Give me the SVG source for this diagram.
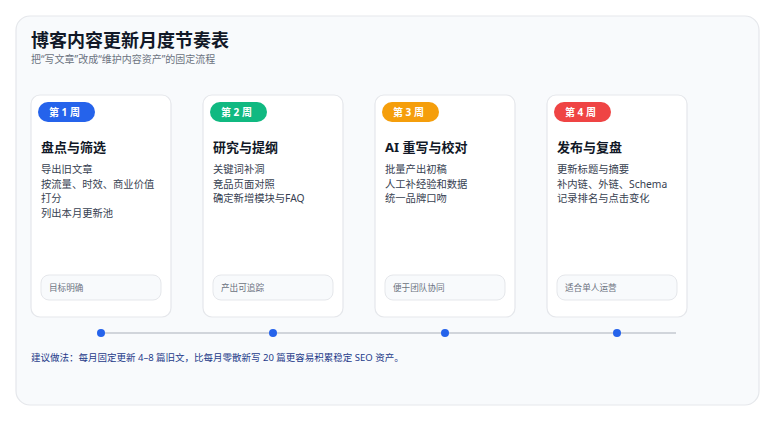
<svg xmlns="http://www.w3.org/2000/svg" width="774" height="421" viewBox="0 0 774 421">
<style>
text{font-family:"Noto Sans","Noto Sans CJK SC",sans-serif}
.title{font-size:18px;font-weight:700;fill:#111827}
.sub{font-size:10px;fill:#6b7280}
.card{fill:#ffffff;stroke:#e5e7eb;stroke-width:1.2}
.badge-t{font-size:10px;font-weight:700;fill:#ffffff}
.head{font-size:13px;font-weight:700;fill:#111827}
.body{font-size:10.3px;fill:#374151}
.foot{fill:#f8fafc;stroke:#e5e7eb;stroke-width:1}
.foot-t{font-size:8.6px;fill:#6b7280}
.dot{fill:#2563eb}
.note{font-size:9.5px;fill:#1e3a8a}
</style>
<rect width="774" height="421" fill="#ffffff"/>
<rect x="16" y="16" width="743" height="389" rx="14" fill="#f8fafc" stroke="#e5e7eb" stroke-width="1.2"/>
<text class="title" x="31" y="47">博客内容更新月度节奏表</text>
<text class="sub" x="31" y="63">把“写文章”改成“维护内容资产”的固定流程</text>

<g id="week1">
<rect class="card" x="31" y="95" width="140" height="222" rx="9"/>
<rect x="38" y="102" width="57" height="20" rx="10" fill="#2563eb"/>
<text class="badge-t" x="49" y="116">第 1 周</text>
<text class="head" x="41" y="152">盘点与筛选</text>
<text class="body" x="41" y="173">导出旧文章</text>
<text class="body" x="41" y="188">按流量、时效、商业价值</text>
<text class="body" x="41" y="202">打分</text>
<text class="body" x="41" y="217">列出本月更新池</text>
<rect class="foot" x="41" y="275" width="120" height="25" rx="8"/>
<text class="foot-t" x="49" y="291">目标明确</text>
</g>

<g id="week2">
<rect class="card" x="203" y="95" width="140" height="222" rx="9"/>
<rect x="210" y="102" width="57" height="20" rx="10" fill="#10b981"/>
<text class="badge-t" x="221" y="116">第 2 周</text>
<text class="head" x="213" y="152">研究与提纲</text>
<text class="body" x="213" y="173">关键词补洞</text>
<text class="body" x="213" y="188">竞品页面对照</text>
<text class="body" x="213" y="202">确定新增模块与FAQ</text>
<rect class="foot" x="213" y="275" width="120" height="25" rx="8"/>
<text class="foot-t" x="221" y="291">产出可追踪</text>
</g>

<g id="week3">
<rect class="card" x="375" y="95" width="140" height="222" rx="9"/>
<rect x="382" y="102" width="57" height="20" rx="10" fill="#f59e0b"/>
<text class="badge-t" x="393" y="116">第 3 周</text>
<text class="head" x="385" y="152">AI 重写与校对</text>
<text class="body" x="385" y="173">批量产出初稿</text>
<text class="body" x="385" y="188">人工补经验和数据</text>
<text class="body" x="385" y="202">统一品牌口吻</text>
<rect class="foot" x="385" y="275" width="120" height="25" rx="8"/>
<text class="foot-t" x="393" y="291">便于团队协同</text>
</g>

<g id="week4">
<rect class="card" x="547" y="95" width="140" height="222" rx="9"/>
<rect x="554" y="102" width="57" height="20" rx="10" fill="#ef4444"/>
<text class="badge-t" x="565" y="116">第 4 周</text>
<text class="head" x="557" y="152">发布与复盘</text>
<text class="body" x="557" y="173">更新标题与摘要</text>
<text class="body" x="557" y="188">补内链、外链、Schema</text>
<text class="body" x="557" y="202">记录排名与点击变化</text>
<rect class="foot" x="557" y="275" width="120" height="25" rx="8"/>
<text class="foot-t" x="565" y="291">适合单人运营</text>
</g>

<g id="timeline">
<line x1="101" y1="333" x2="676" y2="333" stroke="#d1d5db" stroke-width="2"/>
<circle class="dot" cx="101" cy="333" r="4"/>
<circle class="dot" cx="273" cy="333" r="4"/>
<circle class="dot" cx="445" cy="333" r="4"/>
<circle class="dot" cx="617" cy="333" r="4"/>
</g>

<text class="note" x="31" y="361">建议做法：每月固定更新 4–8 篇旧文，比每月零散新写 20 篇更容易积累稳定 SEO 资产。</text>
</svg>
